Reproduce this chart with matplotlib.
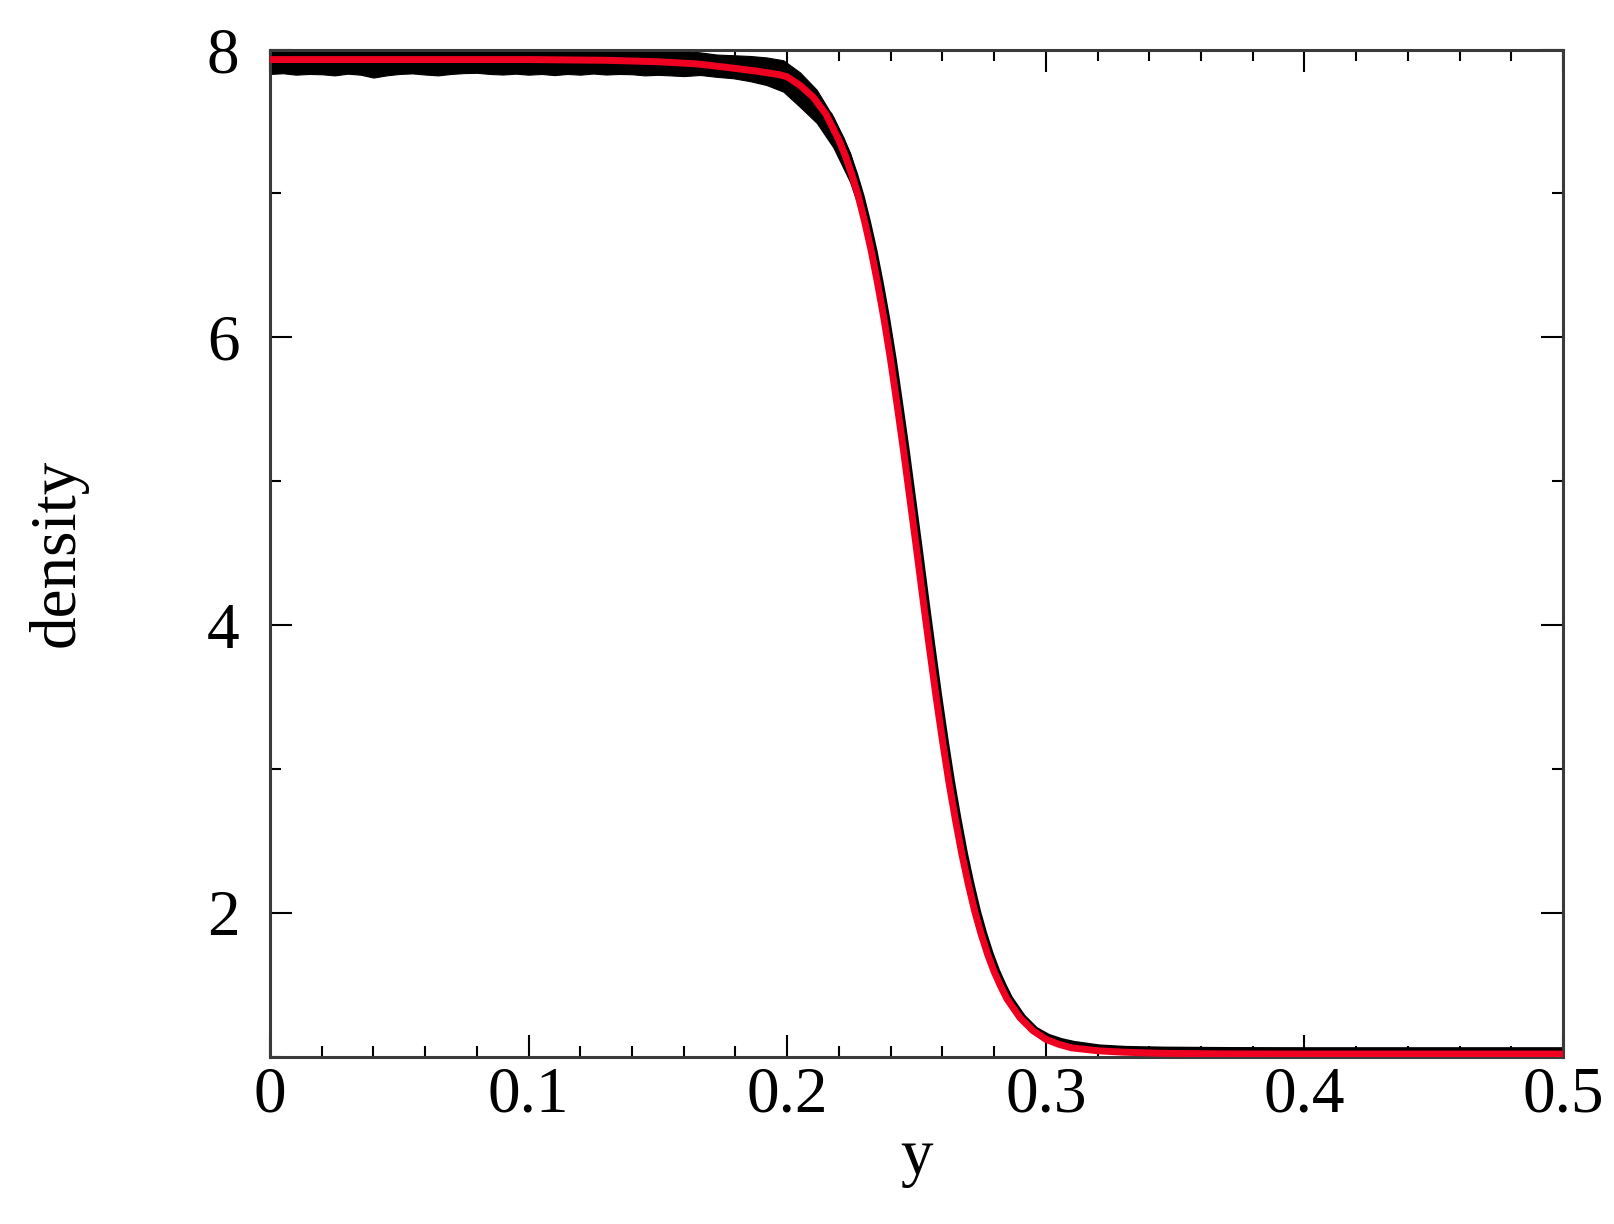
import matplotlib
matplotlib.use("Agg")
import matplotlib.pyplot as plt
from matplotlib.ticker import MultipleLocator, FixedLocator, FixedFormatter

# ---- data ----
x_ticks = [0.0, 0.1, 0.2, 0.3, 0.4, 0.5]
x_tick_labels = ["0", "0.1", "0.2", "0.3", "0.4", "0.5"]
y_ticks = [2, 4, 6, 8]
y_tick_labels = ["2", "4", "6", "8"]

# red profile (fitted curve)
red_x = [0.000, 0.050, 0.100, 0.130, 0.150, 0.165, 0.177, 0.188, 0.197,
         0.2000, 0.2050, 0.2100, 0.2150, 0.2200, 0.2225, 0.2250, 0.2275,
         0.2300, 0.2325, 0.2350, 0.2375, 0.2400, 0.2425, 0.2450, 0.2475,
         0.2500, 0.2525, 0.2550, 0.2575, 0.2600, 0.2625, 0.2650, 0.2675,
         0.2700, 0.2725, 0.2750, 0.2775, 0.2800, 0.2825, 0.2850, 0.2900,
         0.2950, 0.3000, 0.3050, 0.3100, 0.3200, 0.3300, 0.3450, 0.3700,
         0.4000, 0.4500, 0.5000]
red_rho = [7.93, 7.93, 7.93, 7.925, 7.915, 7.90, 7.875, 7.85, 7.825,
           7.81, 7.75, 7.67, 7.55, 7.37, 7.26, 7.13, 6.98,
           6.80, 6.60, 6.37, 6.12, 5.84, 5.53, 5.21, 4.87,
           4.53, 4.18, 3.84, 3.51, 3.20, 2.91, 2.65, 2.41,
           2.20, 2.01, 1.85, 1.71, 1.59, 1.49, 1.40, 1.27,
           1.18, 1.12, 1.085, 1.06, 1.04, 1.03, 1.022, 1.018,
           1.017, 1.017, 1.017]

# black simulation data: noisy band on the plateau and the bend
band_x = [0.000, 0.005, 0.010, 0.015, 0.020, 0.025, 0.030, 0.035, 0.040, 0.045,
          0.050, 0.055, 0.060, 0.065, 0.070, 0.075, 0.080, 0.085, 0.090, 0.095,
          0.100, 0.105, 0.110, 0.115, 0.120, 0.125, 0.130, 0.135, 0.140, 0.145,
          0.150, 0.155, 0.160, 0.1663, 0.1727, 0.1792, 0.1856, 0.192, 0.1985,
          0.205, 0.2114, 0.2178, 0.2243, 0.2290]
band_hi = [8.00, 8.00, 8.00, 8.00, 8.00, 8.00, 8.00, 8.00, 8.00, 8.00,
           8.00, 8.00, 8.00, 8.00, 8.00, 8.00, 8.00, 8.00, 8.00, 8.00,
           8.00, 8.00, 8.00, 8.00, 8.00, 8.00, 8.00, 8.00, 8.00, 8.00,
           8.00, 7.995, 7.99, 7.98, 7.965, 7.96, 7.955, 7.945, 7.925,
           7.84, 7.72, 7.53, 7.28, 7.00]
band_lo = [7.83, 7.835, 7.825, 7.83, 7.828, 7.82, 7.832, 7.825, 7.805, 7.82,
           7.83, 7.834, 7.826, 7.82, 7.83, 7.836, 7.838, 7.83, 7.826, 7.832,
           7.825, 7.83, 7.822, 7.83, 7.825, 7.833, 7.826, 7.83, 7.828, 7.82,
           7.824, 7.82, 7.815, 7.823, 7.81, 7.80, 7.78, 7.753, 7.707,
           7.60, 7.49, 7.32, 7.08, 6.83]

# black simulation data: sharp front and tail
black_x = [0.2158, 0.2208, 0.2233, 0.2258, 0.2283, 0.2308, 0.2333, 0.2358,
           0.2383, 0.2408, 0.2433, 0.2458, 0.2483, 0.2508, 0.2533, 0.2558,
           0.2583, 0.2608, 0.2633, 0.2658, 0.2683, 0.2708, 0.2733, 0.2758,
           0.2783, 0.2808, 0.2833, 0.2858, 0.2908, 0.2958, 0.3008, 0.3058,
           0.3108, 0.3208, 0.3308, 0.3458, 0.3708, 0.4000, 0.4500, 0.5000]
black_rho = [7.55, 7.37, 7.26, 7.13, 6.98, 6.80, 6.60, 6.37,
             6.12, 5.84, 5.53, 5.21, 4.87, 4.53, 4.18, 3.84,
             3.51, 3.20, 2.91, 2.65, 2.41, 2.20, 2.01, 1.85,
             1.71, 1.59, 1.49, 1.40, 1.27, 1.18, 1.13, 1.10,
             1.08, 1.055, 1.045, 1.04, 1.037, 1.036, 1.036, 1.036]

# ---- figure ----
plt.rcParams['font.family'] = ['Liberation Serif', 'DejaVu Serif']

fig = plt.figure(figsize=(16.14, 12.24), dpi=100)
ax = fig.add_axes([270 / 1614, 1 - 1056.5 / 1224, (1563 - 270) / 1614, (1056.5 - 49.5) / 1224])

ax.fill_between(band_x, band_lo, band_hi, color='black', lw=0.8, zorder=2)
ax.plot(black_x, black_rho, color='black', lw=6.0, solid_capstyle='butt', zorder=2)
ax.plot(red_x, red_rho, color='#f00020', lw=5.0, zorder=3)

ax.set_xlim(0, 0.5)
ax.set_ylim(1, 8)

ax.xaxis.set_major_locator(FixedLocator(x_ticks))
ax.xaxis.set_major_formatter(FixedFormatter(x_tick_labels))
ax.xaxis.set_minor_locator(MultipleLocator(0.02))
ax.yaxis.set_major_locator(FixedLocator(y_ticks))
ax.yaxis.set_major_formatter(FixedFormatter(y_tick_labels))
ax.yaxis.set_minor_locator(MultipleLocator(1))

ax.tick_params(which='both', direction='in', top=True, right=True,
               color='black', width=1.5, labelsize=47)
ax.tick_params(which='major', length=15.8)
ax.tick_params(which='minor', length=8)
ax.tick_params(axis='x', which='major', pad=7)
ax.tick_params(axis='y', which='major', pad=22)

for s in ax.spines.values():
    s.set_color('#3a3a3a')
    s.set_linewidth(2.2)

ax.set_xlabel('y', fontsize=47, labelpad=2)
ax.set_ylabel('density', fontsize=47, labelpad=86)

fig.savefig('out.png', dpi=100)
